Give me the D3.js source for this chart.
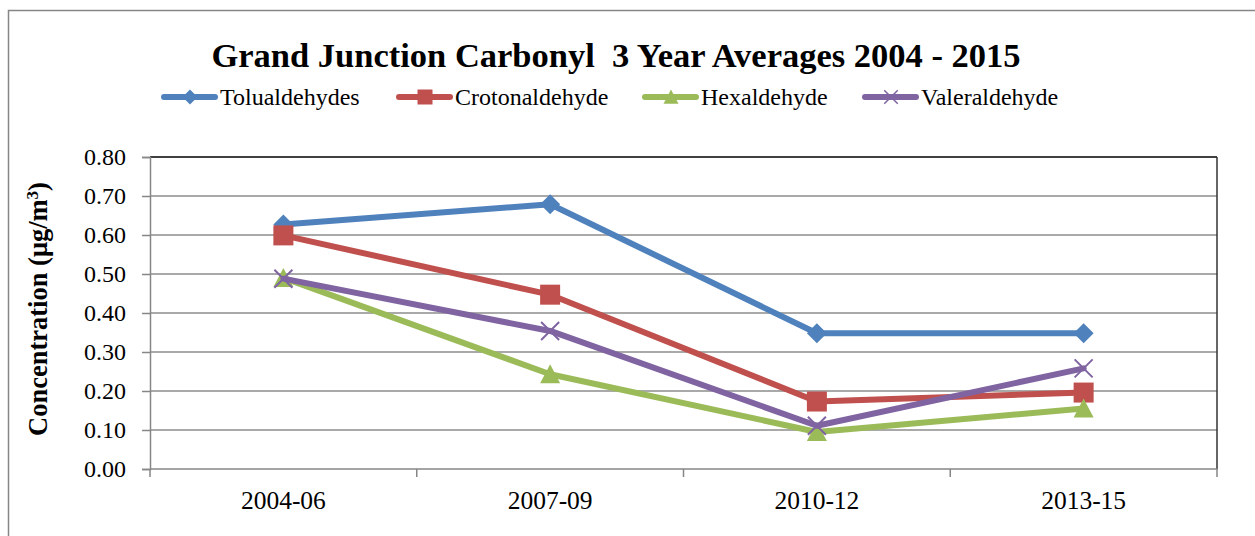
<!DOCTYPE html>
<html>
<head>
<meta charset="utf-8">
<script src="https://cdn.jsdelivr.net/npm/d3@7"></script>
<style>
  body { margin: 0; background: #fff; }
</style>
</head>
<body>
<div id="chart"></div>
<script>
// chart data
const periods = ["2004-06", "2007-09", "2010-12", "2013-15"];
const tolualdehydes = [0.627, 0.679, 0.348, 0.348];
const crotonaldehyde = [0.599, 0.447, 0.173, 0.196];
const hexaldehyde = [0.490, 0.243, 0.095, 0.155];
const valeraldehyde = [0.488, 0.354, 0.111, 0.258];
const yTicks = [0, 0.1, 0.2, 0.3, 0.4, 0.5, 0.6, 0.7, 0.8];

const series = [
    {name: "Tolualdehydes", values: tolualdehydes, color: "#4F81BD", marker: "diamond"},
    {name: "Crotonaldehyde", values: crotonaldehyde, color: "#C0504D", marker: "square"},
    {name: "Hexaldehyde", values: hexaldehyde, color: "#9BBB59", marker: "triangle"},
    {name: "Valeraldehyde", values: valeraldehyde, color: "#8064A2", marker: "cross"}
];

const FONT = "'Liberation Serif', 'DejaVu Serif', serif";

const W = 1255, H = 536;
const margin = {top: 157, right: 38, bottom: 67, left: 150};
const width = W - margin.left - margin.right;
const height = H - margin.top - margin.bottom;

const svg = d3.select("#chart").append("svg")
    .attr("width", W)
    .attr("height", H)
    .style("font-family", FONT);

// outer chart frame
svg.append("rect")
    .attr("x", 8.5).attr("y", 10.5)
    .attr("width", W + 20).attr("height", H + 20)
    .attr("fill", "none")
    .attr("stroke", "#868686")
    .attr("stroke-width", 1.5);

const g = svg.append("g")
    .attr("transform", `translate(${margin.left},${margin.top})`);

const x = d3.scaleBand().domain(periods).range([0, width]);
const y = d3.scaleLinear().domain([0, 0.8]).range([height, 0]);
const cx = d => x(d) + x.bandwidth() / 2;

// gridlines
g.selectAll(".grid")
    .data(yTicks.filter(t => t > 0 && t < 0.8))
    .enter().append("line")
    .attr("class", "grid")
    .attr("x1", 0).attr("x2", width)
    .attr("y1", d => y(d)).attr("y2", d => y(d))
    .attr("stroke", "#8c8c8c")
    .attr("stroke-width", 1.5);

// top and right border of plot area
g.append("line")
    .attr("x1", 0).attr("x2", width)
    .attr("y1", 0).attr("y2", 0)
    .attr("stroke", "#000").attr("stroke-width", 1.5);
g.append("line")
    .attr("x1", width).attr("x2", width)
    .attr("y1", 0).attr("y2", height)
    .attr("stroke", "#333").attr("stroke-width", 1.5);

// y axis
const yAxis = d3.axisLeft(y)
    .tickValues(yTicks)
    .tickSize(8)
    .tickPadding(16)
    .tickFormat(d3.format(".2f"));
const yg = g.append("g").call(yAxis).attr("font-family", FONT);
yg.select(".domain").attr("stroke", "#868686").attr("stroke-width", 1.5);
yg.selectAll(".tick line").attr("stroke", "#868686").attr("stroke-width", 1.5);
yg.selectAll(".tick text")
    .style("font-family", FONT)
    .style("font-size", "24px")
    .attr("fill", "#000");

// x axis: ticks at category boundaries
const bounds = d3.range(periods.length + 1).map(i => i * x.step());
const xg = g.append("g").attr("transform", `translate(0,${height})`);
xg.append("line")
    .attr("x1", 0).attr("x2", width)
    .attr("stroke", "#868686").attr("stroke-width", 1.5);
xg.selectAll(".xtick")
    .data(bounds)
    .enter().append("line")
    .attr("x1", d => d).attr("x2", d => d)
    .attr("y1", 0).attr("y2", 8)
    .attr("stroke", "#868686").attr("stroke-width", 1.5);
xg.selectAll(".xlabel")
    .data(periods)
    .enter().append("text")
    .attr("x", d => cx(d))
    .attr("y", 40)
    .attr("text-anchor", "middle")
    .style("font-size", "25.5px")
    .text(d => d);

// y axis title
svg.append("text")
    .attr("transform", `translate(47,309) rotate(-90)`)
    .attr("text-anchor", "middle")
    .style("font-size", "26.5px")
    .style("font-weight", "bold")
    .html('Concentration (μg/m<tspan dy="-9" style="font-size:17px">3</tspan><tspan dy="9">)</tspan>');

// title
svg.append("text")
    .attr("x", 616).attr("y", 67)
    .attr("text-anchor", "middle")
    .style("font-size", "34.5px")
    .style("font-weight", "bold")
    .style("white-space", "pre")
    .text("Grand Junction Carbonyl  3 Year Averages 2004 - 2015");

function drawMarker(sel, type, color) {
    if (type === "diamond") {
        sel.append("path").attr("d", "M0,-10L10,0L0,10L-10,0Z").attr("fill", color);
    } else if (type === "square") {
        sel.append("rect").attr("x", -10).attr("y", -10).attr("width", 20).attr("height", 20).attr("fill", color);
    } else if (type === "triangle") {
        sel.append("path").attr("d", "M0,-10L10,9L-10,9Z").attr("fill", color);
    } else {
        sel.append("path").attr("d", "M-9,-9L9,9M-9,9L9,-9")
            .attr("stroke", color).attr("stroke-width", 2).attr("fill", "none");
    }
}

// lines and markers
const line = d3.line()
    .x((d, i) => cx(periods[i]))
    .y(d => y(d));

series.forEach(s => {
    g.append("path")
        .datum(s.values)
        .attr("d", line)
        .attr("fill", "none")
        .attr("stroke", s.color)
        .attr("stroke-width", 6)
        .attr("stroke-linejoin", "round")
        .attr("stroke-linecap", "round");
    s.values.forEach((v, i) => {
        const m = g.append("g").attr("transform", `translate(${cx(periods[i])},${y(v)})`);
        drawMarker(m, s.marker, s.color);
    });
});

// legend
const legendX = [162, 397, 643, 863];
const legend = svg.append("g").attr("transform", "translate(0,97)");
series.forEach((s, i) => {
    const lg = legend.append("g").attr("transform", `translate(${legendX[i]},0)`);
    lg.append("line")
        .attr("x1", 2).attr("x2", 53)
        .attr("stroke", s.color).attr("stroke-width", 6)
        .attr("stroke-linecap", "round");
    drawMarker(lg.append("g").attr("transform", "translate(28,0) scale(0.75)"), s.marker, s.color);
    lg.append("text")
        .attr("x", 58).attr("y", 8)
        .style("font-size", "24px")
        .text(s.name);
});
</script>
</body>
</html>
